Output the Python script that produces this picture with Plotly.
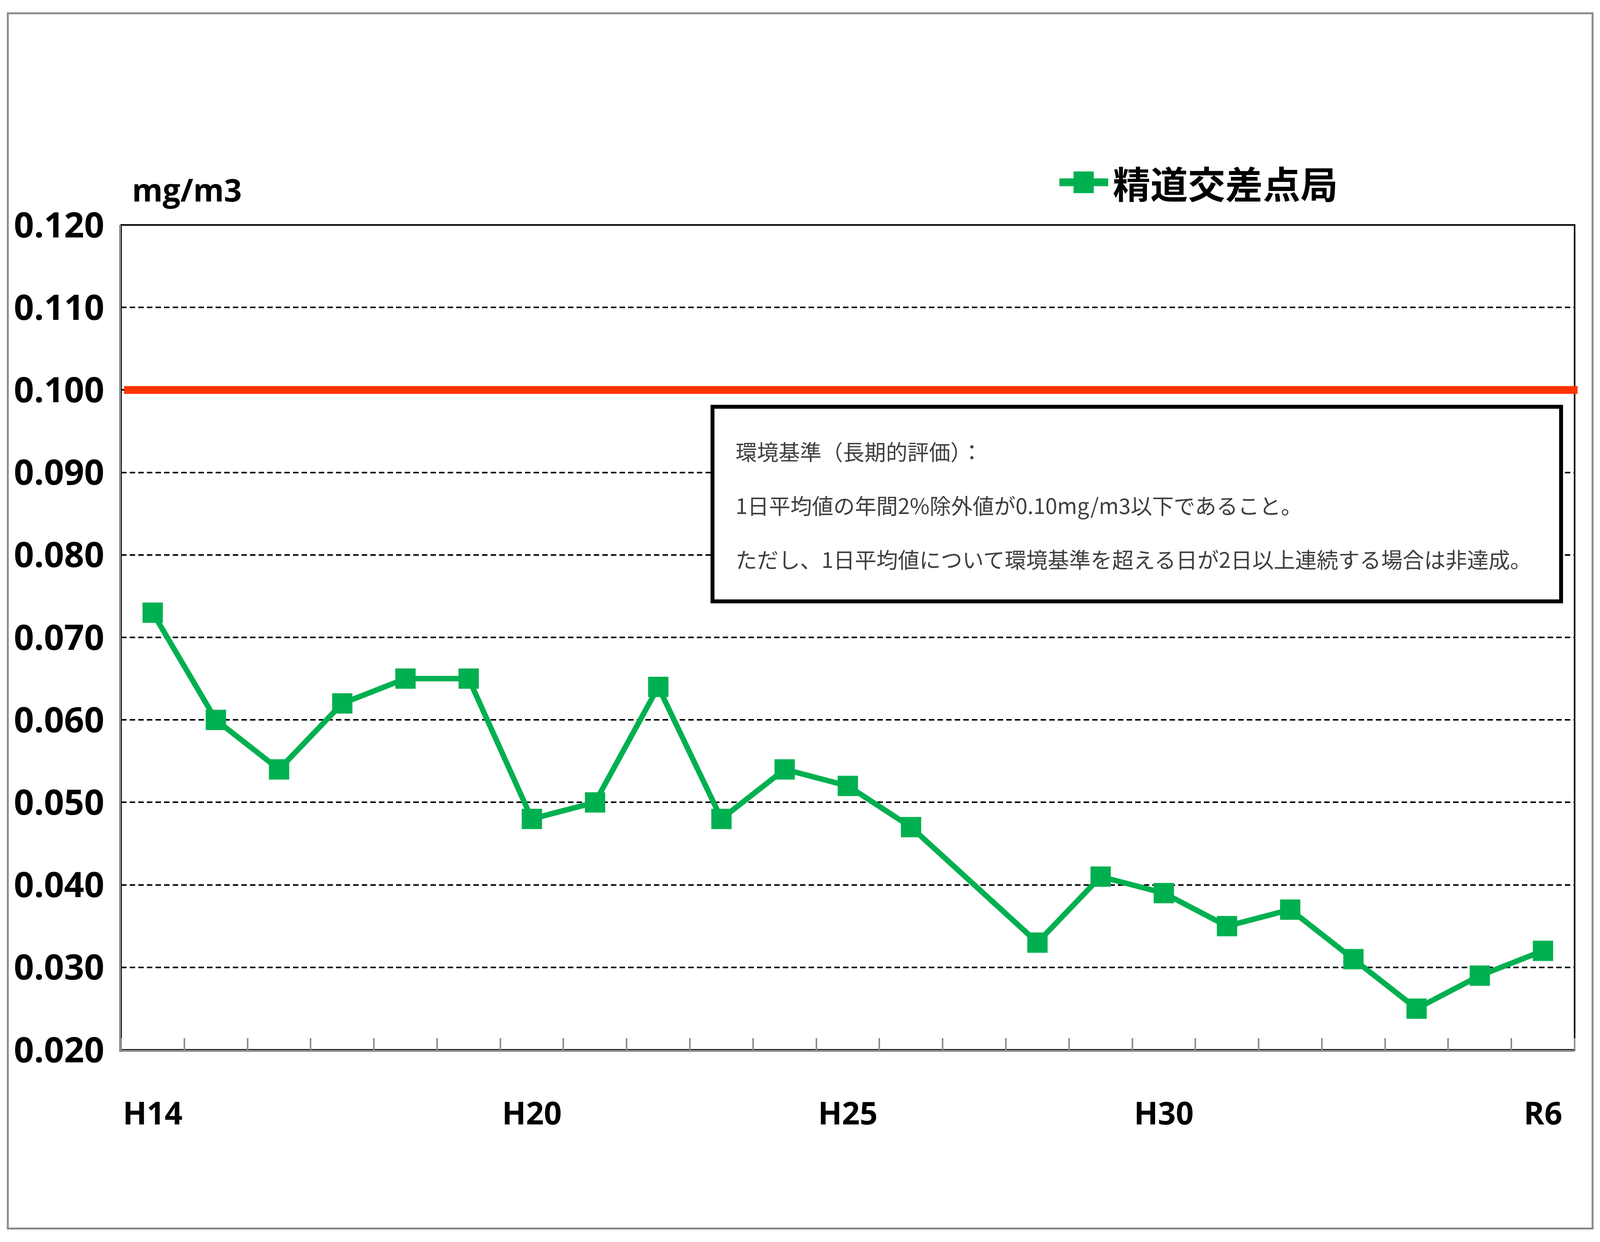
import plotly.graph_objects as go

# 年度ラベル (H14 .. R6)
years = ["H14", "H15", "H16", "H17", "H18", "H19", "H20", "H21", "H22", "H23",
         "H24", "H25", "H26", "H27", "H28", "H29", "H30", "R1", "R2", "R3",
         "R4", "R5", "R6"]
# 精道交差点局 (mg/m3), H27 は欠測
seido = [0.073, 0.060, 0.054, 0.062, 0.065, 0.065, 0.048, 0.050, 0.064, 0.048,
         0.054, 0.052, 0.047, None, 0.033, 0.041, 0.039, 0.035, 0.037, 0.031,
         0.025, 0.029, 0.032]
labeled_years = ["H14", "H20", "H25", "H30", "R6"]
env_standard = 0.10
y_min, y_max, y_step = 0.02, 0.12, 0.01

series_name = "精道交差点局"
unit_label = "mg/m3"
note_lines = [
    "環境基準（長期的評価）：",
    "1日平均値の年間2%除外値が0.10mg/m3以下であること。",
    "ただし、1日平均値について環境基準を超える日が2日以上連続する場合は非達成。",
]

# the browser window really is 4096 wide, so lay out for that
VIEW_W, VIEW_H = 4096, 3180
SX = VIEW_W / 5713  # reference x -> page x

L, R = round(421 * SX), round(5633 * SX)
T, B = 568, 2696

GREEN = "#00B050"
RED = "#FF3300"
GRAY = "#8c8c8c"
FONT = "Open Sans"
CJK = "Noto Sans CJK JP"


def px(x_ref):
    return (x_ref * SX - L) / (R - L)


def py(y):
    return (B - y) / (B - T)


xs = list(range(len(years)))

fig = go.Figure()
fig.add_trace(go.Scatter(
    x=xs, y=seido, name=series_name, mode="lines+markers",
    connectgaps=True,
    line=dict(color=GREEN, width=14),
    marker=dict(symbol="square", size=52, color=GREEN),
    showlegend=False,
))

shapes = [
    # plot frame, top/right black
    dict(type="rect", xref="paper", yref="paper", x0=0, x1=1, y0=0, y1=1,
         line=dict(color="black", width=4), layer="below"),
    # environmental standard
    dict(type="line", xref="paper", yref="y", x0=px(432), x1=px(5644),
         y0=env_standard, y1=env_standard, line=dict(color=RED, width=20)),
    # note box
    dict(type="rect", xref="paper", yref="paper",
         x0=px(2542), x1=px(5585), y0=py(1539), y1=py(1037),
         line=dict(color="black", width=10), fillcolor="white"),
    # legend sample
    dict(type="line", xref="paper", yref="paper",
         x0=px(3786), x1=px(3961), y0=py(458), y1=py(458),
         line=dict(color=GREEN, width=20)),
    dict(type="rect", xref="paper", yref="paper",
         x0=px(3873) - 26 / (R - L), x1=px(3873) + 26 / (R - L),
         y0=py(458 + 28), y1=py(458 - 28),
         line=dict(width=0), fillcolor=GREEN),
    # outer chart border
    dict(type="rect", xref="paper", yref="paper",
         x0=px(15), x1=px(5698), y0=py(3157), y1=py(22),
         line=dict(color=GRAY, width=5)),
]

annotations = [
    dict(text="<b>" + unit_label + "</b>", xref="paper", yref="paper",
         x=px(457), y=py(476), xanchor="left", yanchor="middle", showarrow=False,
         font=dict(family=FONT, size=80, color="black")),
    dict(text="<b>" + series_name + "</b>", xref="paper", yref="paper",
         x=px(3975), y=py(458), xanchor="left", yanchor="middle", showarrow=False,
         font=dict(family=CJK, size=96, color="black")),
]
for i, line in enumerate(note_lines):
    annotations.append(dict(text=line, xref="paper", yref="paper", x=px(2622),
                            y=py(1150 + 139 * i), xanchor="left", yanchor="middle",
                            showarrow=False,
                            font=dict(family=CJK, size=55, color="#404040")))

fig.update_layout(
    autosize=True,
    margin=dict(l=L, r=VIEW_W - R, t=T, b=VIEW_H - B),
    paper_bgcolor="white", plot_bgcolor="white",
    shapes=shapes, annotations=annotations,
    xaxis=dict(
        automargin=False,
        range=[-0.5, len(years) - 0.5],
        tickvals=[years.index(y) for y in labeled_years],
        ticktext=labeled_years,
        ticks="", showgrid=False, zeroline=False,
        showline=True, linecolor=GRAY, linewidth=5,
        ticklabelstandoff=90,
        tickfont=dict(family=FONT, size=80, color="black", weight="bold"),
        minor=dict(tick0=-0.5, dtick=1, ticks="inside", ticklen=30,
                   tickcolor=GRAY, tickwidth=4, showgrid=False),
    ),
    yaxis=dict(
        automargin=False,
        range=[y_min, y_max], dtick=y_step, tick0=y_min, tickformat=".3f",
        showgrid=True, gridcolor="black", gridwidth=4, griddash="14px,8px",
        zeroline=False, showline=True, linecolor=GRAY, linewidth=5,
        ticks="", ticklabelstandoff=20,
        tickfont=dict(family=FONT, size=90, color="black", weight="bold"),
    ),
)

fig.write_html("out.html", default_width="100%", default_height="100%")
